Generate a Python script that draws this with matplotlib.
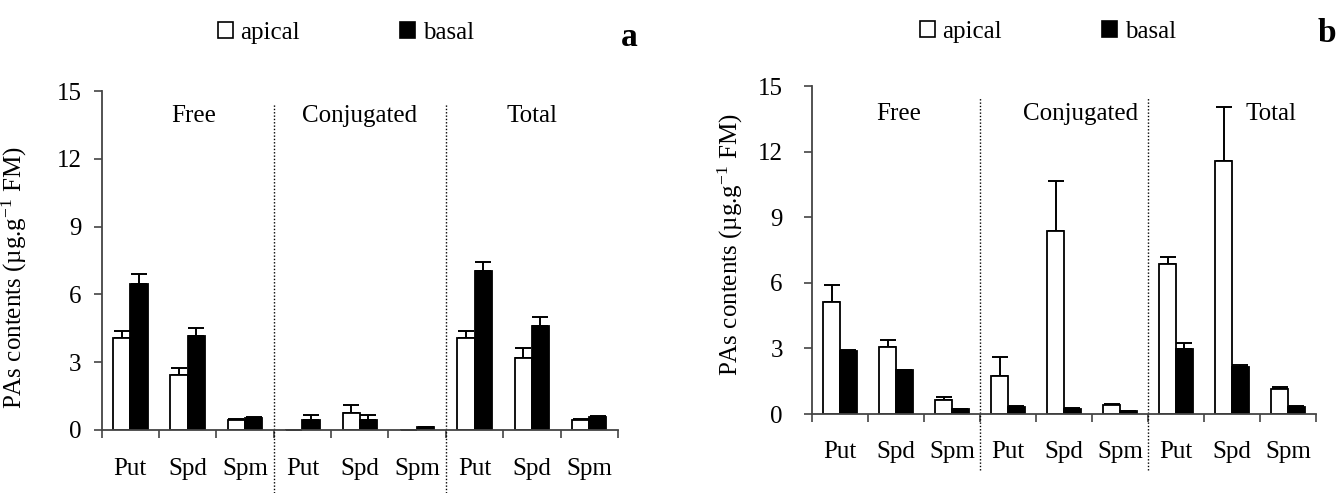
import numpy as np
import matplotlib
matplotlib.use("Agg")
import matplotlib.pyplot as plt
import matplotlib.transforms as mtransforms
from matplotlib.patches import Patch

plt.rcParams['font.family'] = ['Liberation Serif', 'DejaVu Serif']
plt.rcParams['mathtext.fontset'] = 'custom'
plt.rcParams['mathtext.rm'] = 'Liberation Serif'
plt.rcParams['mathtext.it'] = 'Liberation Serif:italic'

# data
compounds = ["Put", "Spd", "Spm"]
fractions = ["Free", "Conjugated", "Total"]
legend_labels = ["apical", "basal"]
ylabel = r"PAs contents (µg.g$^{\mathregular{-1}}$ FM)"

# panel a
a_apical = [4.05, 2.43, 0.44, 0.02, 0.76, 0.02, 4.06, 3.19, 0.44]
a_apical_err = [0.33, 0.31, 0.05, 0.0, 0.34, 0.0, 0.33, 0.42, 0.05]
a_basal = [6.47, 4.16, 0.55, 0.44, 0.44, 0.12, 7.02, 4.60, 0.56]
a_basal_err = [0.43, 0.34, 0.04, 0.22, 0.22, 0.03, 0.42, 0.41, 0.04]

# panel b
b_apical = [5.12, 3.05, 0.63, 1.75, 8.37, 0.41, 6.85, 11.55, 1.15]
b_apical_err = [0.78, 0.34, 0.13, 0.85, 2.27, 0.05, 0.32, 2.48, 0.10]
b_basal = [2.87, 2.00, 0.23, 0.33, 0.24, 0.14, 2.97, 2.16, 0.33]
b_basal_err = [0.05, 0.03, 0.02, 0.03, 0.03, 0.01, 0.30, 0.06, 0.03]

yticks = [0, 3, 6, 9, 12, 15]
FS = 18


def draw_panel(ax, apical, apical_err, basal, basal_err, group_pos,
               line_top, line_bot, label_y, ypad, ylab_xy):
    n = len(apical)
    centers = np.arange(n) + 0.5
    w = 0.3
    ax.bar(centers - w / 2, apical, width=w, color="white", edgecolor="black",
           linewidth=1.3, zorder=2)
    ax.bar(centers + w / 2, basal, width=w, color="black", edgecolor="black",
           linewidth=1.3, zorder=2)
    ax.errorbar(centers - w / 2, apical, yerr=[np.zeros(n), apical_err], fmt="none",
                ecolor="black", elinewidth=1.4, capsize=5.5, capthick=1.4, zorder=1)
    ax.errorbar(centers + w / 2, basal, yerr=[np.zeros(n), basal_err], fmt="none",
                ecolor="black", elinewidth=1.4, capsize=5.5, capthick=1.4, zorder=1)

    ax.set_xlim(0, n)
    ax.set_ylim(0, 15)
    ax.set_yticks(yticks)
    ax.set_xticks(np.arange(n + 1))
    ax.set_xticklabels([])
    ax.spines["top"].set_visible(False)
    ax.spines["right"].set_visible(False)
    for s in ["left", "bottom"]:
        ax.spines[s].set_color("#444444")
        ax.spines[s].set_linewidth(1.3)
    ax.tick_params(axis="y", direction="out", length=6, width=1.2, labelsize=FS,
                   pad=ypad, color="#444444")
    ax.tick_params(axis="x", direction="out", length=6, width=1.2, color="#444444")
    ax.set_ylabel(ylabel, fontsize=FS)
    ax.yaxis.set_label_coords(*ylab_xy)

    trans = mtransforms.blended_transform_factory(ax.transData, ax.transAxes)
    for i, c in enumerate(centers):
        ax.text(c, label_y, compounds[i % 3], transform=trans, ha="center",
                va="center", fontsize=FS)
    for xd in [3, 6]:
        ax.plot([xd, xd], [line_bot, line_top], transform=trans, color="black",
                linestyle=(0, (1, 1.4)), linewidth=1.0, clip_on=False)
    for (gx, gy), label in zip(group_pos, fractions):
        ax.text(gx, gy, label, ha="center", va="center", fontsize=FS)


fig = plt.figure(figsize=(13.41, 4.93), dpi=100)
ax1 = fig.add_axes([0.0758, 0.1278, 0.385, 0.6876])
ax2 = fig.add_axes([0.6055, 0.1602, 0.3758, 0.6653])

draw_panel(ax1, a_apical, a_apical_err, a_basal, a_basal_err,
           [(1.6, 13.9), (4.5, 13.9), (7.5, 13.9)], 0.965, -0.186,
           -0.115, 8.5, (-0.14, 0.448))
draw_panel(ax2, b_apical, b_apical_err, b_basal, b_basal_err,
           [(1.55, 13.7), (4.8, 13.7), (8.2, 13.7)], 0.966, -0.171,
           -0.115, 15, (-0.132, 0.515))

handles = [Patch(facecolor="white", edgecolor="black", linewidth=1.2),
           Patch(facecolor="black", edgecolor="black", linewidth=1.2)]
for xc, yc in [(0.258, 1 - 33 / 493), (0.7815, 1 - 32 / 493)]:
    fig.legend(handles, legend_labels, loc="center", bbox_to_anchor=(xc, yc),
               ncol=2, frameon=False, fontsize=FS, handlelength=0.6,
               handleheight=0.6, handletextpad=0.3, columnspacing=4.0)

fig.text(629 / 1341, 1 - 37 / 493, "a", fontsize=24, fontweight="bold",
         ha="center", va="center")
fig.text(1327 / 1341, 1 - 34 / 493, "b", fontsize=24, fontweight="bold",
         ha="center", va="center")

fig.savefig("out.png", dpi=100)
